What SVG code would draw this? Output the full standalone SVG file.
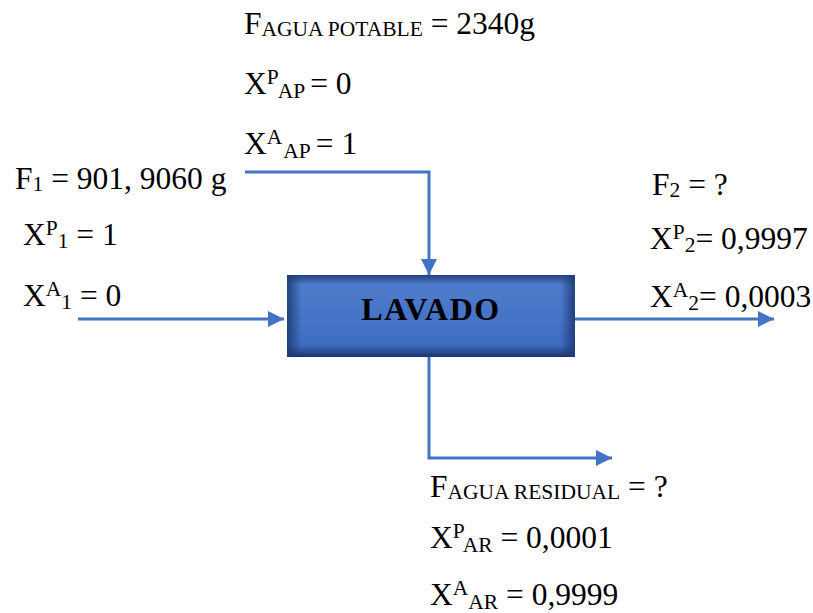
<svg xmlns="http://www.w3.org/2000/svg" width="813" height="613" viewBox="0 0 813 613">
<style>
  text { font-family: "Liberation Serif", "Times New Roman", Times, serif; }
  .t { font-size: 31.5px; fill: #000; }
  .s { font-size: 21.5px; }
  .c { stroke: #4472C4; stroke-width: 3; fill: none; }
  .lbl { font-size: 32px; font-weight: bold; fill: #000; }
</style>
<defs>
  <marker id="ah" markerUnits="userSpaceOnUse" markerWidth="16" markerHeight="16" viewBox="0 0 16 16" refX="16" refY="8" orient="auto">
    <path d="M0,0 L16,8 L0,16 Z" fill="#4472C4"/>
  </marker>
  <linearGradient id="gv" x1="0" y1="0" x2="0" y2="1">
    <stop offset="0" stop-color="#1d3a75" stop-opacity="0.9"/>
    <stop offset="0.12" stop-color="#1d3a75" stop-opacity="0"/>
    <stop offset="0.85" stop-color="#1d3a75" stop-opacity="0"/>
    <stop offset="1" stop-color="#1a3266" stop-opacity="0.95"/>
  </linearGradient>
  <linearGradient id="gh" x1="0" y1="0" x2="1" y2="0">
    <stop offset="0" stop-color="#1d3a75" stop-opacity="0.9"/>
    <stop offset="0.05" stop-color="#1d3a75" stop-opacity="0"/>
    <stop offset="0.95" stop-color="#1d3a75" stop-opacity="0"/>
    <stop offset="1" stop-color="#1d3a75" stop-opacity="0.9"/>
  </linearGradient>
  <linearGradient id="gb" x1="0" y1="0" x2="0" y2="1">
    <stop offset="0" stop-color="#527fcc"/>
    <stop offset="1" stop-color="#3b69c0"/>
  </linearGradient>
</defs>

<g id="connectors">
  <path class="c" d="M245,172 H429 V275" marker-end="url(#ah)"/>
  <path class="c" d="M78,319 H284" marker-end="url(#ah)"/>
  <path class="c" d="M575,319 H774" marker-end="url(#ah)"/>
  <path class="c" d="M429,357 V458 H612" marker-end="url(#ah)"/>
</g>

<g id="lavado">
  <rect x="287" y="275" width="288" height="82" fill="url(#gb)"/>
  <rect x="287" y="275" width="288" height="82" fill="url(#gv)"/>
  <rect x="287" y="275" width="288" height="82" fill="url(#gh)"/>
  <text class="lbl" x="431" y="320" text-anchor="middle" letter-spacing="1.5">LAVADO</text>
</g>

<g id="agua-potable">
  <text class="t" x="244" y="34">F<tspan class="s" dy="2">AGUA POTABLE</tspan><tspan dy="-2"> = 2340g</tspan></text>
  <text class="t" x="244" y="94">X<tspan class="s" dy="-10">P</tspan><tspan class="s" dy="14" dx="1">AP</tspan><tspan dy="-4" dx="5">= 0</tspan></text>
  <text class="t" x="244" y="154">X<tspan class="s" dy="-10">A</tspan><tspan class="s" dy="14" dx="1">AP</tspan><tspan dy="-4" dx="5">= 1</tspan></text>
</g>

<g id="f1">
  <text class="t" x="15" y="189">F<tspan class="s" dy="2">1</tspan><tspan dy="-2"> = 901, 9060 g</tspan></text>
  <text class="t" x="23" y="245">X<tspan class="s" dy="-10">P</tspan><tspan class="s" dy="13">1</tspan><tspan dy="-3"> = 1</tspan></text>
  <text class="t" x="23" y="306">X<tspan class="s" dy="-10">A</tspan><tspan class="s" dy="13">1</tspan><tspan dy="-3"> = 0</tspan></text>
</g>

<g id="f2">
  <text class="t" x="652" y="195">F<tspan class="s" dy="2">2</tspan><tspan dy="-2"> = ?</tspan></text>
  <text class="t" x="650" y="249">X<tspan class="s" dy="-10">P</tspan><tspan class="s" dy="13">2</tspan><tspan dy="-3">= 0,9997</tspan></text>
  <text class="t" x="650" y="307">X<tspan class="s" dy="-10">A</tspan><tspan class="s" dy="13">2</tspan><tspan dy="-3">= 0,0003</tspan></text>
</g>

<g id="agua-residual">
  <text class="t" x="430" y="497">F<tspan class="s" dy="2">AGUA RESIDUAL</tspan><tspan dy="-2"> = ?</tspan></text>
  <text class="t" x="430" y="548">X<tspan class="s" dy="-10">P</tspan><tspan class="s" dy="14">AR</tspan><tspan dy="-4"> = 0,0001</tspan></text>
  <text class="t" x="430" y="605">X<tspan class="s" dy="-10">A</tspan><tspan class="s" dy="14">AR</tspan><tspan dy="-4"> = 0,9999</tspan></text>
</g>
</svg>
